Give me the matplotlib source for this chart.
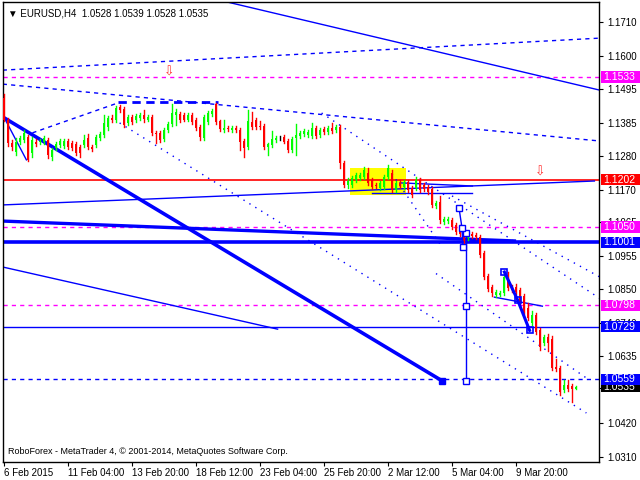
import matplotlib
matplotlib.use("Agg")
import matplotlib.pyplot as plt
from matplotlib.patches import Rectangle
from matplotlib.transforms import blended_transform_factory

plt.rcParams['font.family'] = ['Liberation Sans', 'DejaVu Sans']

# EURUSD H4 candles
opens = [
    1.1465, 1.1395, 1.1320, 1.1291, 1.1324, 1.1330, 1.1340, 1.1288, 1.1324, 1.1324,
    1.1324, 1.1330, 1.1275, 1.1304, 1.1314, 1.1311, 1.1327, 1.1320, 1.1317, 1.1307,
    1.1314, 1.1336, 1.1307, 1.1314, 1.1336, 1.1346, 1.1372, 1.1401, 1.1395, 1.1436,
    1.1430, 1.1385, 1.1404, 1.1395, 1.1401, 1.1411, 1.1395, 1.1404, 1.1353, 1.1353,
    1.1333, 1.1362, 1.1382, 1.1411, 1.1414, 1.1411, 1.1395, 1.1411, 1.1395, 1.1372,
    1.1336, 1.1388, 1.1414, 1.1446, 1.1391, 1.1362, 1.1369, 1.1362, 1.1369, 1.1362,
    1.1327, 1.1307, 1.1388, 1.1395, 1.1375, 1.1375, 1.1307, 1.1314, 1.1330, 1.1336,
    1.1340, 1.1327, 1.1298, 1.1336, 1.1343, 1.1349, 1.1346, 1.1343, 1.1369, 1.1346,
    1.1365, 1.1356, 1.1369, 1.1362, 1.1372, 1.1256, 1.1185, 1.1185, 1.1201, 1.1208,
    1.1211, 1.1224, 1.1201, 1.1185, 1.1176, 1.1179, 1.1211, 1.1224, 1.1169, 1.1192,
    1.1179, 1.1195, 1.1176, 1.1176, 1.1201, 1.1185, 1.1179, 1.1172, 1.1117, 1.1130,
    1.1066, 1.1069, 1.1072, 1.1056, 1.1050, 1.1034, 1.1014, 1.1027, 1.1024, 1.1018,
    1.0966, 1.0892, 1.0857, 1.0832, 1.0832, 1.0838, 1.0895, 1.0857, 1.0857, 1.0848,
    1.0828, 1.0789, 1.0741, 1.0767, 1.0718, 1.0676, 1.0696, 1.0689, 1.0600, 1.0596,
    1.0525, 1.0541, 1.0538, 1.0528]
closes = [
    1.1395, 1.1320, 1.1307, 1.1324, 1.1336, 1.1353, 1.1266, 1.1330, 1.1317, 1.1327,
    1.1336, 1.1282, 1.1298, 1.1317, 1.1327, 1.1327, 1.1307, 1.1304, 1.1288, 1.1288,
    1.1330, 1.1307, 1.1301, 1.1340, 1.1349, 1.1385, 1.1401, 1.1395, 1.1433, 1.1427,
    1.1378, 1.1404, 1.1388, 1.1407, 1.1411, 1.1398, 1.1404, 1.1353, 1.1349, 1.1330,
    1.1362, 1.1382, 1.1417, 1.1420, 1.1395, 1.1395, 1.1411, 1.1388, 1.1369, 1.1340,
    1.1404, 1.1417, 1.1423, 1.1388, 1.1365, 1.1369, 1.1365, 1.1369, 1.1362, 1.1324,
    1.1304, 1.1391, 1.1372, 1.1372, 1.1372, 1.1307, 1.1317, 1.1333, 1.1336, 1.1336,
    1.1324, 1.1298, 1.1333, 1.1346, 1.1353, 1.1359, 1.1356, 1.1369, 1.1343, 1.1362,
    1.1356, 1.1369, 1.1359, 1.1372, 1.1256, 1.1185, 1.1198, 1.1208, 1.1217, 1.1217,
    1.1233, 1.1192, 1.1179, 1.1182, 1.1192, 1.1211, 1.1240, 1.1169, 1.1192, 1.1182,
    1.1195, 1.1169, 1.1153, 1.1201, 1.1169, 1.1172, 1.1163, 1.1121, 1.1127, 1.1072,
    1.1076, 1.1076, 1.1050, 1.1034, 1.1027, 1.1005, 1.1024, 1.1021, 1.1018, 1.0960,
    1.0889, 1.0850, 1.0838, 1.0841, 1.0838, 1.0889, 1.0853, 1.0848, 1.0841, 1.0805,
    1.0776, 1.0757, 1.0767, 1.0712, 1.0664, 1.0696, 1.0676, 1.0596, 1.0593, 1.0519,
    1.0541, 1.0528, 1.0528, 1.0535]
highs = [
    1.1478, 1.1400, 1.1330, 1.1336, 1.1343, 1.1362, 1.1346, 1.1340, 1.1333, 1.1333,
    1.1343, 1.1336, 1.1304, 1.1324, 1.1333, 1.1333, 1.1333, 1.1327, 1.1324, 1.1314,
    1.1346, 1.1349, 1.1314, 1.1346, 1.1356, 1.1411, 1.1407, 1.1411, 1.1439, 1.1443,
    1.1436, 1.1411, 1.1411, 1.1414, 1.1417, 1.1427, 1.1411, 1.1411, 1.1359, 1.1359,
    1.1369, 1.1388, 1.1446, 1.1430, 1.1420, 1.1417, 1.1417, 1.1417, 1.1401, 1.1378,
    1.1411, 1.1423, 1.1430, 1.1449, 1.1395, 1.1395, 1.1375, 1.1375, 1.1375, 1.1369,
    1.1333, 1.1427, 1.1420, 1.1401, 1.1391, 1.1382, 1.1320, 1.1359, 1.1343, 1.1343,
    1.1346, 1.1333, 1.1340, 1.1382, 1.1359, 1.1365, 1.1362, 1.1385, 1.1375, 1.1369,
    1.1372, 1.1375, 1.1385, 1.1378, 1.1378, 1.1262, 1.1208, 1.1214, 1.1224, 1.1224,
    1.1243, 1.1240, 1.1208, 1.1192, 1.1198, 1.1217, 1.1250, 1.1233, 1.1198, 1.1201,
    1.1201, 1.1201, 1.1182, 1.1211, 1.1208, 1.1192, 1.1185, 1.1179, 1.1134, 1.1150,
    1.1082, 1.1082, 1.1079, 1.1063, 1.1056, 1.1040, 1.1030, 1.1034, 1.1030, 1.1024,
    1.0972, 1.0898, 1.0863, 1.0847, 1.0844, 1.0895, 1.0905, 1.0863, 1.0866, 1.0853,
    1.0835, 1.0805, 1.0780, 1.0773, 1.0725, 1.0702, 1.0705, 1.0699, 1.0625, 1.0603,
    1.0558, 1.0558, 1.0545, 1.0539]
lows = [
    1.1390, 1.1310, 1.1298, 1.1282, 1.1317, 1.1324, 1.1262, 1.1275, 1.1311, 1.1317,
    1.1317, 1.1272, 1.1266, 1.1298, 1.1307, 1.1304, 1.1301, 1.1298, 1.1282, 1.1275,
    1.1307, 1.1301, 1.1295, 1.1307, 1.1330, 1.1340, 1.1362, 1.1388, 1.1388, 1.1420,
    1.1372, 1.1378, 1.1382, 1.1388, 1.1395, 1.1388, 1.1391, 1.1346, 1.1320, 1.1324,
    1.1327, 1.1356, 1.1375, 1.1378, 1.1388, 1.1391, 1.1391, 1.1382, 1.1362, 1.1330,
    1.1330, 1.1382, 1.1407, 1.1382, 1.1359, 1.1356, 1.1359, 1.1356, 1.1356, 1.1298,
    1.1275, 1.1301, 1.1365, 1.1365, 1.1365, 1.1301, 1.1282, 1.1307, 1.1324, 1.1330,
    1.1320, 1.1291, 1.1291, 1.1282, 1.1336, 1.1343, 1.1340, 1.1336, 1.1336, 1.1340,
    1.1349, 1.1349, 1.1353, 1.1356, 1.1240, 1.1179, 1.1176, 1.1179, 1.1195, 1.1201,
    1.1204, 1.1185, 1.1172, 1.1176, 1.1169, 1.1172, 1.1204, 1.1163, 1.1163, 1.1176,
    1.1172, 1.1163, 1.1147, 1.1169, 1.1163, 1.1166, 1.1156, 1.1114, 1.1111, 1.1063,
    1.1059, 1.1063, 1.1043, 1.1027, 1.1021, 1.0998, 1.1008, 1.1014, 1.1011, 1.0953,
    1.0882, 1.0844, 1.0828, 1.0825, 1.0828, 1.0832, 1.0847, 1.0841, 1.0834, 1.0799,
    1.0770, 1.0750, 1.0734, 1.0705, 1.0654, 1.0670, 1.0651, 1.0590, 1.0586, 1.0509,
    1.0519, 1.0522, 1.0487, 1.0528]

xtick_bars = [0, 16, 32, 48, 64, 80, 96, 112, 128]
xtick_labels = ["6 Feb 2015", "11 Feb 04:00", "13 Feb 20:00", "18 Feb 12:00",
                "23 Feb 04:00", "25 Feb 20:00", "2 Mar 12:00", "5 Mar 04:00",
                "9 Mar 20:00"]
ytick_vals = [1.1710, 1.1600, 1.1495, 1.1385, 1.1280, 1.1170, 1.1065, 1.0955,
              1.0850, 1.0740, 1.0635, 1.0530, 1.0420, 1.0310]

# horizontal levels: price, colour, style, width
levels = [(1.1533, "#ff00ff", (0, (3, 3)), 1.0),
          (1.1202, "#ff0000", "-", 1.2),
          (1.1050, "#ff00ff", (0, (3, 3)), 1.0),
          (1.1001, "#0000ff", "-", 2.6),
          (1.0798, "#ff00ff", (0, (3, 3)), 1.0),
          (1.0729, "#0000ff", "-", 1.0),
          (1.0559, "#0000ff", (0, (3, 3)), 1.0)]
# price boxes on the right scale (drawn in this order, later ones on top)
price_tags = [(1.0535, "#000000"), (1.1533, "#ff00ff"), (1.1202, "#ff0000"),
              (1.1050, "#ff00ff"), (1.1001, "#0000ff"), (1.0798, "#ff00ff"),
              (1.0729, "#0000ff"), (1.0559, "#0000ff")]

# trend lines: (bar1, price1, bar2, price2, style, width)
trend_lines = [
    (55.6, 1.1775, 148.8, 1.1491, "-", 1.0),
    (-0.3, 1.1555, 148.8, 1.1658, (0, (3, 3)), 1.0),
    (-0.3, 1.1510, 148.8, 1.1327, (0, (3, 3)), 1.0),
    (7.1, 1.1353, 28.4, 1.1449, (0, (3, 3)), 1.0),
    (28.4, 1.1452, 53.4, 1.1452, (0, (3, 2)), 2.0),
    (-0.3, 1.1404, 109.6, 1.0554, "-", 2.6),
    (0.1, 1.1401, 5.6, 1.1266, "-", 1.0),
    (28.9, 1.1385, 145.6, 1.0451, (0, (1, 4)), 1.0),
    (79.4, 1.1417, 148.8, 1.0821, (0, (1, 4)), 1.0),
    (-0.3, 1.1121, 147.6, 1.1198, "-", 1.0),
    (92.1, 1.1159, 117.1, 1.1159, "-", 1.0),
    (99.0, 1.1192, 117.1, 1.1182, "-", 1.0),
    (-0.3, 1.1069, 127.6, 1.1005, "-", 2.4),
    (-0.3, 1.0921, 68.4, 1.0721, "-", 1.0),
    (96.0, 1.1240, 109.0, 1.0995, (0, (1, 4)), 1.0),
    (112.0, 1.1150, 148.8, 1.0890, (0, (1, 4)), 1.0),
    (108.0, 1.0900, 146.0, 1.0560, (0, (1, 4)), 1.0),
    (122.6, 1.0824, 134.6, 1.0795, "-", 1.0),
]
zigzag_bars = [125.1, 128.4, 131.4]
zigzag_prices = [1.0905, 1.0815, 1.0717]
vert_bar = 115.6
vert_prices = [1.1030, 1.0795, 1.0554]
small_bars = [113.75, 114.5, 114.75]
small_prices = [1.1111, 1.1047, 1.0985]

fig = plt.figure(figsize=(6.4, 4.8), dpi=100)
ax = fig.add_axes([3 / 640, 18 / 480, 596 / 640, 460 / 480])
ax.set_xlim(-0.25, 148.75)
ax.set_ylim(1.02932, 1.17744)

# yellow box around the sideways range
ax.add_patch(Rectangle((86.6, 1.1153), 14.0, 0.0087, facecolor="#ffff00",
                       edgecolor="none", zorder=1))

for p, c, ls, lw in levels:
    ax.axhline(p, color=c, ls=ls, lw=lw, zorder=2)

for b1, p1, b2, p2, ls, lw in trend_lines:
    ax.plot([b1, b2], [p1, p2], color="#0000ff", ls=ls, lw=lw, zorder=2)

ax.plot([109.6], [1.0554], marker="s", ms=4, color="#0000ff", zorder=4)
ax.plot(zigzag_bars, zigzag_prices, color="#0000ff", lw=2.2, zorder=4)
ax.plot(zigzag_bars, zigzag_prices, ls="none", marker="s", ms=5, mfc="none",
        mec="#0000ff", mew=1.2, zorder=4)
ax.plot([vert_bar, vert_bar], [vert_prices[0], vert_prices[-1]], color="#0000ff", lw=1, zorder=4)
ax.plot([vert_bar] * 3, vert_prices, ls="none", marker="s", ms=4, mfc="white",
        mec="#0000ff", mew=1, zorder=4)
ax.plot(small_bars, small_prices, color="#0000ff", lw=1, zorder=4)
ax.plot(small_bars, small_prices, ls="none", marker="s", ms=4, mfc="white",
        mec="#0000ff", mew=1, zorder=4)

# candles
for i in range(len(opens)):
    o, h, l, c = opens[i], highs[i], lows[i], closes[i]
    if c > o:
        col = "#00ff00"
    elif c < o:
        col = "#ff0000"
    else:
        col = "#000000"
    ax.plot([i, i], [l, h], color=col, lw=1, zorder=3)
    ax.bar(i, max(abs(c - o), 0.00008), bottom=min(o, c), width=0.7,
           color=col, linewidth=0, zorder=3)

# arrows
for b, p in [(41.4, 1.1549), (134.1, 1.1227)]:
    ax.text(b, p, "\u21e9", color="#ff3030", fontsize=9, ha="center", va="center",
            family="DejaVu Sans", zorder=5)

for sp in ax.spines.values():
    sp.set_color("black")
    sp.set_linewidth(1)

ax.yaxis.tick_right()
ax.set_yticks(ytick_vals)
ax.set_yticklabels(["%.4f" % v for v in ytick_vals])
ax.tick_params(axis="y", labelsize=7, length=3, pad=3, colors="black")
ax.set_xticks(xtick_bars)
ax.set_xticklabels(xtick_labels, ha="left")
ax.tick_params(axis="x", labelsize=7, length=3, pad=1, colors="black")

# price tags: box from the scale to the right edge of the figure
tag_tr = blended_transform_factory(fig.transFigure, ax.transData)
tag_h = 0.0036
for k, (p, c) in enumerate(price_tags):
    fig.patches.append(Rectangle((601 / 640, p - tag_h / 2), 39 / 640, tag_h,
                                 transform=tag_tr, facecolor=c, edgecolor="none",
                                 zorder=10 + 2 * k))
    fig.text(603 / 640, p, "%.4f" % p, transform=tag_tr, color="white",
             fontsize=7.5, ha="left", va="center", zorder=11 + 2 * k)

ax.text(0.008, 0.985, "\u25bc EURUSD,H4  1.0528 1.0539 1.0528 1.0535",
        transform=ax.transAxes, fontsize=7, va="top", ha="left")
ax.text(0.008, 0.012, "RoboForex - MetaTrader 4, \u00a9 2001-2014, MetaQuotes Software Corp.",
        transform=ax.transAxes, fontsize=6.5, va="bottom", ha="left")

fig.savefig("out.png", dpi=100, facecolor="white")
